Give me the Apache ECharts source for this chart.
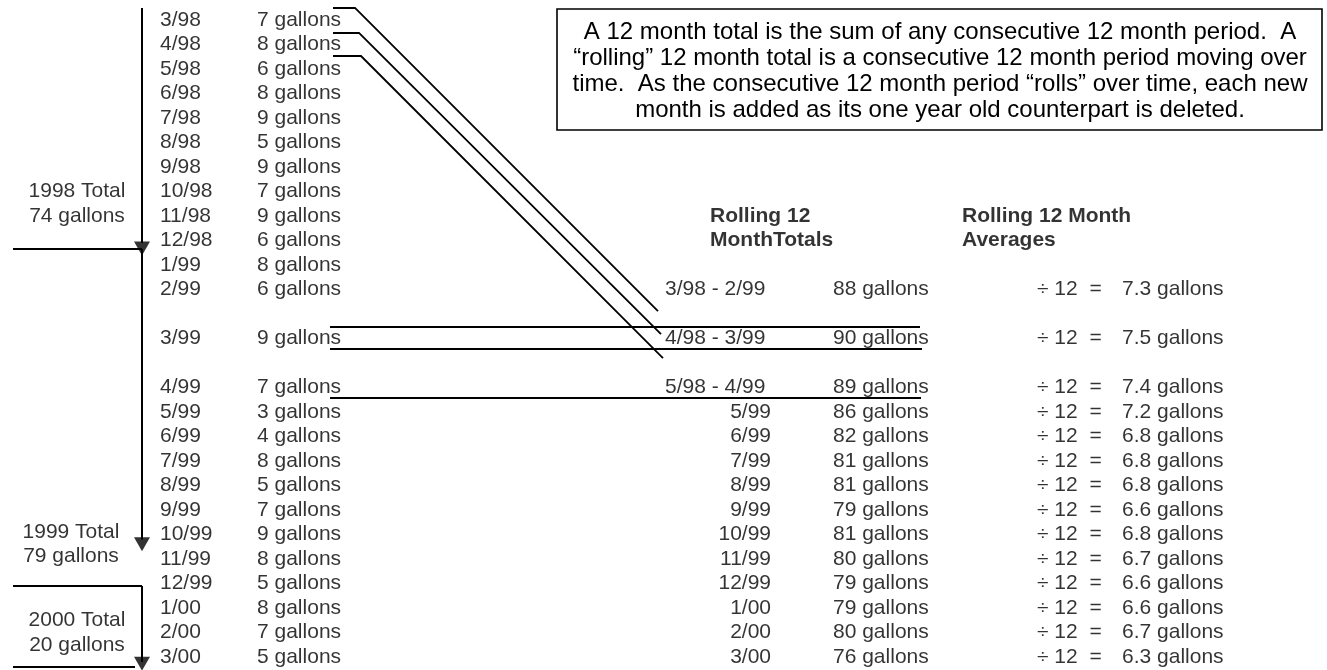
<!DOCTYPE html>
<html>
<head>
<meta charset="utf-8">
<title>Rolling 12 Month Totals</title>
<script src="https://cdn.jsdelivr.net/npm/echarts@6/dist/echarts.min.js"></script>
<style>
html, body { margin: 0; padding: 0; background: #fff; }
#main { width: 1327px; height: 670px; }
</style>
</head>
<body>
<div id="main"></div>
<script>
// monthly usage 3/98 - 3/00
var months = ['3/98', '4/98', '5/98', '6/98', '7/98', '8/98', '9/98', '10/98', '11/98', '12/98', '1/99', '2/99',
  '3/99',
  '4/99', '5/99', '6/99', '7/99', '8/99', '9/99', '10/99', '11/99', '12/99', '1/00', '2/00', '3/00']
var gallons = [7, 8, 6, 8, 9, 5, 9, 7, 9, 6, 8, 6,
  9,
  7, 3, 4, 8, 5, 7, 9, 8, 5, 8, 7, 5]
// table row of each month (blank rows around 3/99)
var monthRows = [0, 1, 2, 3, 4, 5, 6, 7, 8, 9, 10, 11,
  13,
  15, 16, 17, 18, 19, 20, 21, 22, 23, 24, 25, 26]

// calendar year totals
var yearNames = ['1998 Total', '1999 Total', '2000 Total']
var yearGallons = [74, 79, 20]
var yearRows = [7, 20.9, 24.5]
var yearX = [77, 71, 77]

// rolling 12 month totals and averages
var rollPeriods = ['3/98 - 2/99', '4/98 - 3/99', '5/98 - 4/99', '5/99', '6/99', '7/99', '8/99', '9/99',
  '10/99', '11/99', '12/99', '1/00', '2/00', '3/00']
var rollTotals = [88, 90, 89, 86, 82, 81, 81, 79, 81, 80, 79, 79, 80, 76]
var rollAverages = [7.3, 7.5, 7.4, 7.2, 6.8, 6.8, 6.8, 6.6, 6.8, 6.7, 6.6, 6.6, 6.7, 6.3]
var rollRows = [11, 13, 15, 16, 17, 18, 19, 20, 21, 22, 23, 24, 25, 26]

var noteLines = [
  'A 12 month total is the sum of any consecutive 12 month period.  A',
  '\u201crolling\u201d 12 month total is a consecutive 12 month period moving over',
  'time.  As the consecutive 12 month period \u201crolls\u201d over time, each new',
  'month is added as its one year old counterpart is deleted.'
]

var FONT = 'Liberation Sans, Arial, Helvetica, sans-serif'

// text column drawn as scatter labels
function textSeries(points, align, bold) {
  return {
    type: 'scatter',
    silent: true,
    symbol: 'circle',
    symbolSize: 1,
    itemStyle: { color: 'rgba(0,0,0,0)' },
    data: points,
    label: {
      show: true,
      position: 'inside',
      align: align,
      verticalAlign: 'middle',
      fontFamily: FONT,
      fontSize: 21,
      fontWeight: bold ? 'bold' : 'normal',
      color: '#000',
      formatter: function (p) { return p.data[2] }
    }
  }
}

function seg(pts) {
  return { coords: pts }
}

var connectorLines = [
  // year brackets on the left
  seg([[142, -0.49], [142, 9.1]]),
  seg([[13, 9.35], [142, 9.35]]),
  seg([[142, 9.35], [142, 21.2]]),
  seg([[13, 23.1], [142, 23.1]]),
  seg([[142, 23.1], [142, 26.2]]),
  seg([[13, 26.4], [135, 26.4]]),
  // rules across the 3/99 and 4/99 rows
  seg([[330, 12.53], [920, 12.53]]),
  seg([[330, 13.43], [922, 13.43]]),
  seg([[330, 15.43], [921, 15.43]])
]
var diagonalLines = [
  seg([[333, -0.49], [355, -0.49], [658, 11.88]]),
  seg([[333, 0.53], [359, 0.53], [661, 12.82]]),
  seg([[333, 1.47], [361, 1.47], [663, 13.8]])
]
var arrowHeads = [[142, 9.33], [142, 21.4], [142, 26.27]]

var chart = echarts.init(document.getElementById('main'))

var option = {
  animation: false,
  backgroundColor: '#fff',
  grid: { left: 0, right: 0, top: 0, bottom: 0 },
  xAxis: { type: 'value', min: 0, max: 1327, show: false },
  yAxis: { type: 'value', inverse: true, min: -0.816, max: 26.53, show: false },
  graphic: [
    {
      type: 'rect',
      shape: { x: 557, y: 9, width: 765, height: 121 },
      style: { fill: '#fff', stroke: '#000', lineWidth: 1.6 },
      z: 1
    }
  ].concat(noteLines.map(function (t, i) {
    return {
      type: 'text',
      x: 940,
      y: 32 + i * 26,
      z: 2,
      style: {
        text: t,
        align: 'center',
        verticalAlign: 'middle',
        font: '24px ' + FONT,
        fill: '#000'
      }
    }
  })),
  series: [
    {
      type: 'lines',
      coordinateSystem: 'cartesian2d',
      silent: true,
      lineStyle: { color: '#000', width: 2, opacity: 1 },
      data: connectorLines
    },
    {
      type: 'lines',
      coordinateSystem: 'cartesian2d',
      polyline: true,
      silent: true,
      lineStyle: { color: '#000', width: 1.8, opacity: 1 },
      data: diagonalLines
    },
    {
      type: 'scatter',
      silent: true,
      symbol: 'triangle',
      symbolRotate: 180,
      symbolSize: [16, 14],
      itemStyle: { color: '#000' },
      data: arrowHeads
    },
    textSeries(months.map(function (m, i) { return [160, monthRows[i], m] }), 'left'),
    textSeries(gallons.map(function (g, i) { return [257, monthRows[i], g + ' gallons'] }), 'left'),
    textSeries(yearNames.map(function (n, i) { return [yearX[i], yearRows[i], n] }), 'center'),
    textSeries(yearGallons.map(function (g, i) { return [yearX[i], yearRows[i] + 1, g + ' gallons'] }), 'center'),
    textSeries([[710, 8, 'Rolling 12'], [710, 9, 'MonthTotals'],
      [962, 8, 'Rolling 12 Month'], [962, 9, 'Averages']], 'left', true),
    textSeries(rollPeriods.slice(0, 3).map(function (p, i) { return [665, rollRows[i], p] }), 'left'),
    textSeries(rollPeriods.slice(3).map(function (p, i) { return [771, rollRows[i + 3], p] }), 'right'),
    textSeries(rollTotals.map(function (t, i) { return [833, rollRows[i], t + ' gallons'] }), 'left'),
    textSeries(rollAverages.map(function (a, i) { return [1037, rollRows[i], '\u00f7 12  ='] }), 'left'),
    textSeries(rollAverages.map(function (a, i) { return [1122, rollRows[i], a.toFixed(1) + ' gallons'] }), 'left')
  ]
}

chart.setOption(option)
</script>
</body>
</html>
